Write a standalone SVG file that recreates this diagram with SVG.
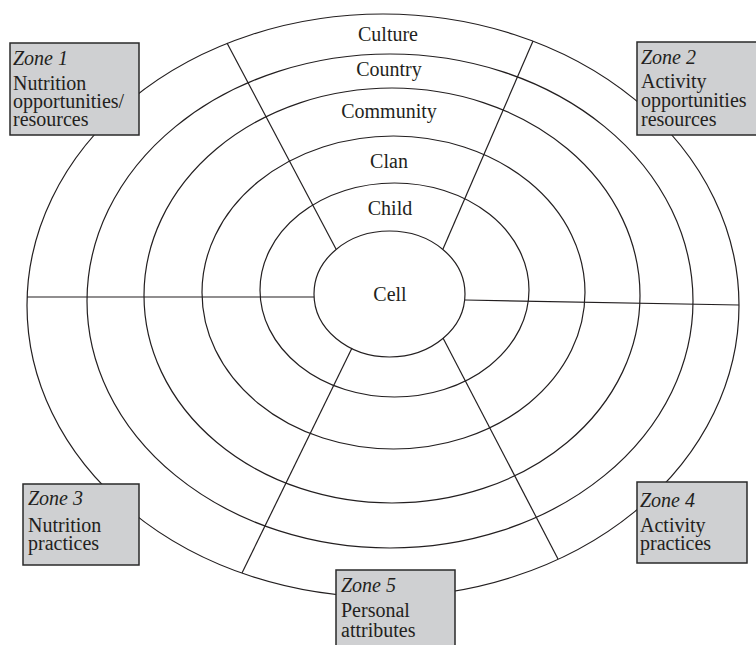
<svg xmlns="http://www.w3.org/2000/svg" width="756" height="645" viewBox="0 0 756 645">
<style>
.ring{fill:none;stroke:#231f20;stroke-width:1.2}
.conn line{stroke:#231f20;stroke-width:1.2}
.lbl{font-family:"Liberation Serif","Times New Roman",serif;font-size:20px;fill:#231f20;text-anchor:middle}
.zbox{fill:#cfd0d2;stroke:#2a2a2a;stroke-width:1.5}
.zt{font-family:"Liberation Serif","Times New Roman",serif;font-size:20px;fill:#231f20}
.zi{font-style:italic}
</style>
<rect width="756" height="645" fill="#ffffff"/>
<g id="ring-culture"><ellipse class="ring" cx="383" cy="305.5" rx="356" ry="291.5"/><text class="lbl" x="388" y="41">Culture</text></g>
<g id="ring-country"><ellipse class="ring" cx="390" cy="301" rx="303" ry="247"/><text class="lbl" x="389" y="76">Country</text></g>
<g id="ring-community"><ellipse class="ring" cx="392" cy="295.5" rx="248" ry="207.5"/><text class="lbl" x="389" y="118">Community</text></g>
<g id="ring-clan"><ellipse class="ring" cx="393.5" cy="292.5" rx="191.5" ry="156.5"/><text class="lbl" x="389" y="168">Clan</text></g>
<g id="ring-child"><ellipse class="ring" cx="394.5" cy="290" rx="134.5" ry="107"/><text class="lbl" x="390" y="215">Child</text></g>
<g id="ring-cell"><ellipse class="ring" cx="389.5" cy="294" rx="75.5" ry="63"/><text class="lbl" x="390" y="301">Cell</text></g>
<g id="connectors" class="conn">
<line x1="227" y1="43" x2="336" y2="249"/>
<line x1="533" y1="41" x2="443" y2="249"/>
<line x1="27" y1="297" x2="314" y2="297"/>
<line x1="465" y1="300" x2="739" y2="305"/>
<line x1="352" y1="348" x2="242" y2="573"/>
<line x1="443" y1="338" x2="558" y2="559"/>
</g>
<g id="zone1"><rect class="zbox" x="10" y="43" width="129" height="92"/>
<text class="zt zi" x="13" y="65">Zone 1</text>
<text class="zt" x="13" y="90">Nutrition</text>
<text class="zt" x="13" y="108">opportunities/</text>
<text class="zt" x="13" y="126">resources</text></g>
<g id="zone2"><rect class="zbox" x="637" y="42" width="130" height="93"/>
<text class="zt zi" x="641" y="64">Zone 2</text>
<text class="zt" x="641" y="88">Activity</text>
<text class="zt" x="641" y="107">opportunities</text>
<text class="zt" x="641" y="126">resources</text></g>
<g id="zone3"><rect class="zbox" x="23" y="484" width="116" height="81"/>
<text class="zt zi" x="28" y="505">Zone 3</text>
<text class="zt" x="28" y="532">Nutrition</text>
<text class="zt" x="28" y="550">practices</text></g>
<g id="zone4"><rect class="zbox" x="637" y="482" width="110" height="81"/>
<text class="zt zi" x="640" y="507">Zone 4</text>
<text class="zt" x="640" y="532">Activity</text>
<text class="zt" x="640" y="550">practices</text></g>
<g id="zone5"><rect class="zbox" x="336" y="570" width="119" height="85"/>
<text class="zt zi" x="341" y="592">Zone 5</text>
<text class="zt" x="341" y="617">Personal</text>
<text class="zt" x="341" y="637">attributes</text></g>
</svg>
